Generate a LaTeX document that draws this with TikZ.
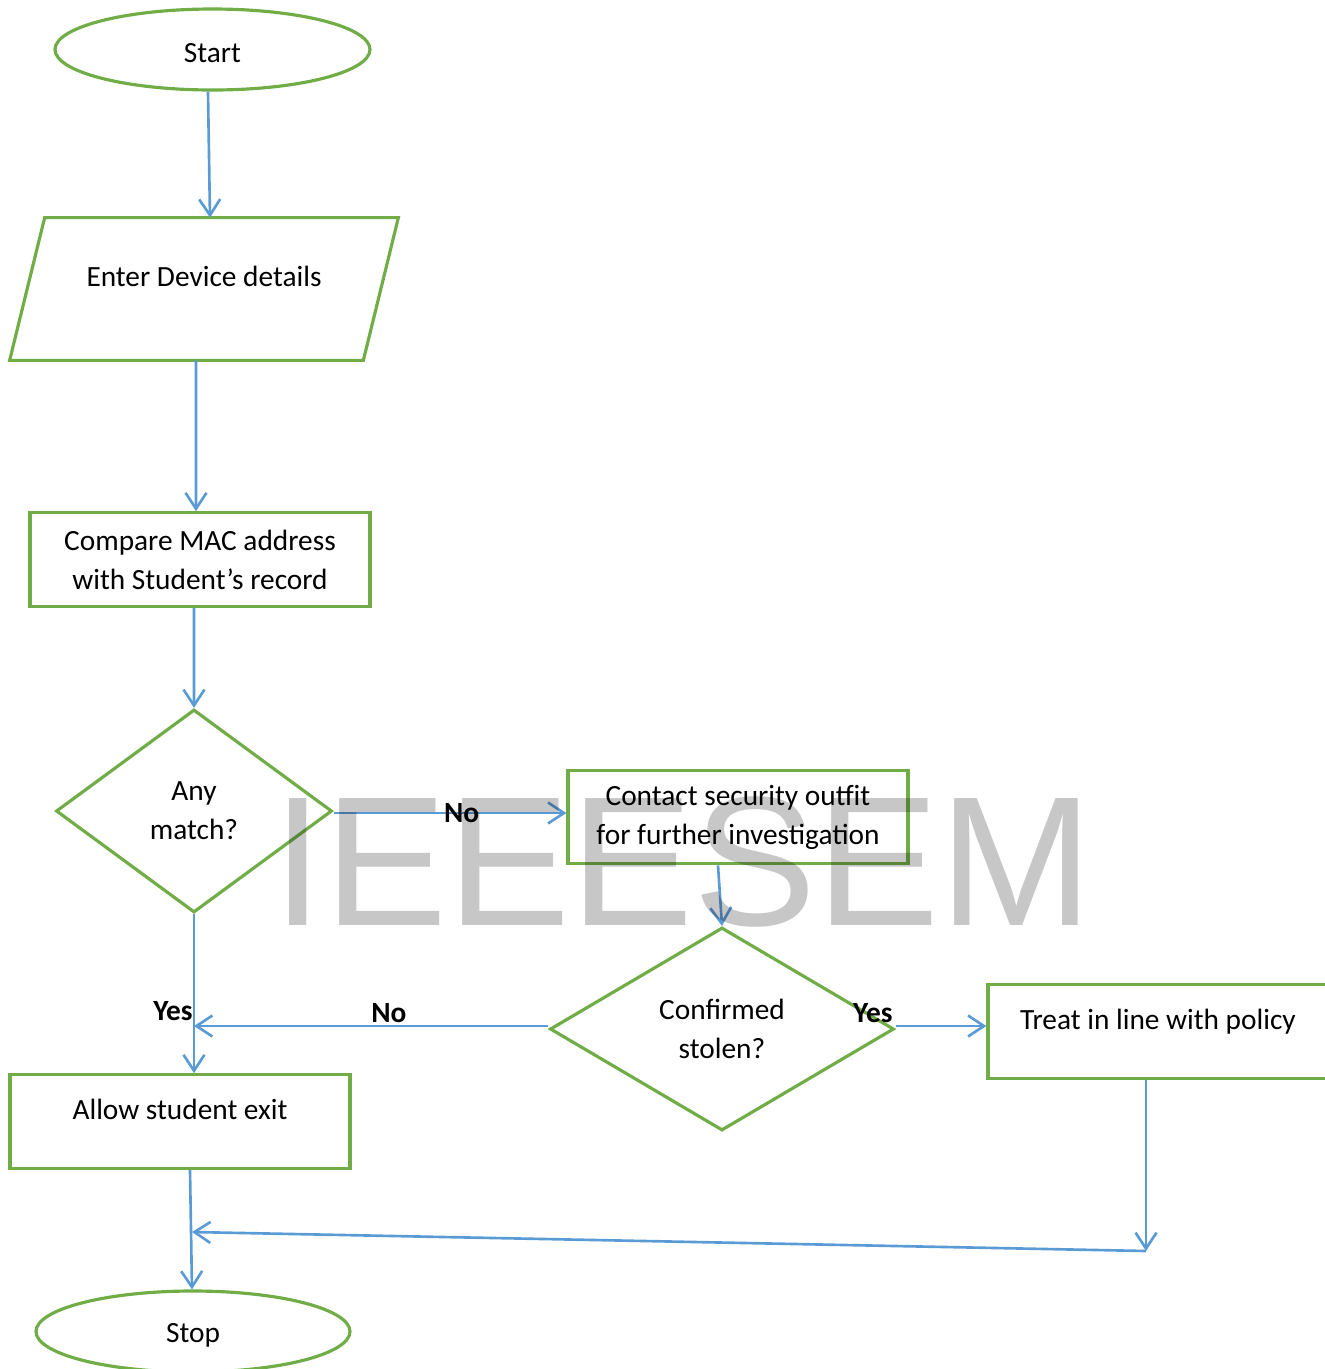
\documentclass[tikz,border=0pt]{standalone}
\usepackage{fontspec}
\setmainfont{Carlito}
\newfontfamily\markfont{Liberation Sans}
\usepackage{tikz}
\usetikzlibrary{arrows.meta, positioning, shapes.geometric, calc}

\definecolor{flowgreen}{RGB}{112,173,71}
\definecolor{flowblue}{RGB}{91,155,213}

\begin{document}
\begin{tikzpicture}[
    font=\fontsize{16.7}{22.2}\selectfont,
    term/.style={ellipse, draw=flowgreen, line width=1.8pt, minimum width=6.3cm, minimum height=1.62cm, text centered, text height=0.52cm},
    io/.style={rectangle, minimum width=7.76cm, minimum height=2.84cm, text depth=0.5cm},
    slanted/.style={draw=flowgreen, line width=1.8pt, line join=miter},
    box/.style={rectangle, draw=flowgreen, line width=1.8pt, minimum width=6.8cm, minimum height=1.87cm, align=center},
    lifted/.style={text depth=0.5cm},
    decision/.style={diamond, draw=flowgreen, line width=1.8pt, fill=white, align=center, inner sep=0pt},
    answer/.style={font=\fontsize{16.7}{22.2}\selectfont\bfseries, inner sep=1pt},
    watermark/.style={font=\markfont\fontsize{105}{105}\selectfont, text=black, text opacity=0.22, inner sep=0pt, anchor=base west},
    arrow/.style={-{Straight Barb[length=0.32cm, width=0.42cm]}, draw=flowblue, line width=1.5pt}]
    \useasboundingbox (0,0) rectangle (26.5,-27.38);
    % Nodes
    \node[term] (start) at (4.25,-0.99) {Start};
    \node[io] (input) at (4.08,-5.78) {Enter Device details};
    \draw[slanted] (input.south west) -- ([xshift=-0.7cm]input.south east) -- (input.north east) -- ([xshift=0.7cm]input.north west) -- cycle;
    \node[box] (compare) at (4.00,-11.19) {Compare MAC address\\with Student’s record};
    \node[decision, minimum width=5.52cm, minimum height=4.06cm] (match) at (3.88,-16.22) {Any\\match?};
    \node[box] (contact) at (14.76,-16.34) {Contact security outfit\\for further investigation};
    \node[decision, minimum width=6.88cm, minimum height=4.06cm] (stolen) at (14.44,-20.58) {Confirmed\\stolen?};
    \node[box, lifted] (treat) at (23.16,-20.63) {Treat in line with policy};
    \node[box, lifted] (allow) at (3.60,-22.43) {Allow student exit};
    \node[term, minimum width=6.28cm] (stop) at (3.86,-26.63) {Stop};
    \coordinate (mergeR) at (22.92,-25.02);
    \coordinate (mergeL) at (3.84,-24.64);

    % Arrows
    \draw[arrow] ([xshift=-0.09cm]start.south) -- ([xshift=0.12cm]input.north);
    \draw[arrow] ([xshift=-0.16cm]input.south) -- ([xshift=-0.08cm]compare.north);
    \draw[arrow] ([xshift=-0.12cm]compare.south) -- (match.north);
    \draw[arrow] ([yshift=-0.04cm]match.east) -- node[answer, pos=0.55] {No} ([yshift=-0.04cm]match.east -| contact.west);
    \draw[arrow] ([xshift=-0.4cm]contact.south) -- (stolen.north);
    \draw[arrow] (match.south) -- node[answer, pos=0.61, anchor=east, inner sep=0pt] {Yes} ([xshift=0.28cm]allow.north);
    \draw[arrow] ([yshift=0.06cm]stolen.west) -- node[answer, pos=0.45, above] {No} ([yshift=0.06cm]stolen.west -| match.south);
    \draw[arrow] ([yshift=0.06cm]stolen.east) -- node[answer, pos=0, anchor=south east] {Yes} ([yshift=0.06cm]stolen.east -| treat.west);
    \draw[arrow] ([xshift=0.2cm]allow.south) -- ([xshift=-0.02cm]stop.north);
    \draw[arrow] ([xshift=-0.24cm]treat.south) -- (mergeR);
    \draw[arrow] (mergeR) -- (mergeL);

    \node[watermark] (mark) at (5.45,-18.5) {IEEESEM};
\end{tikzpicture}
\end{document}
